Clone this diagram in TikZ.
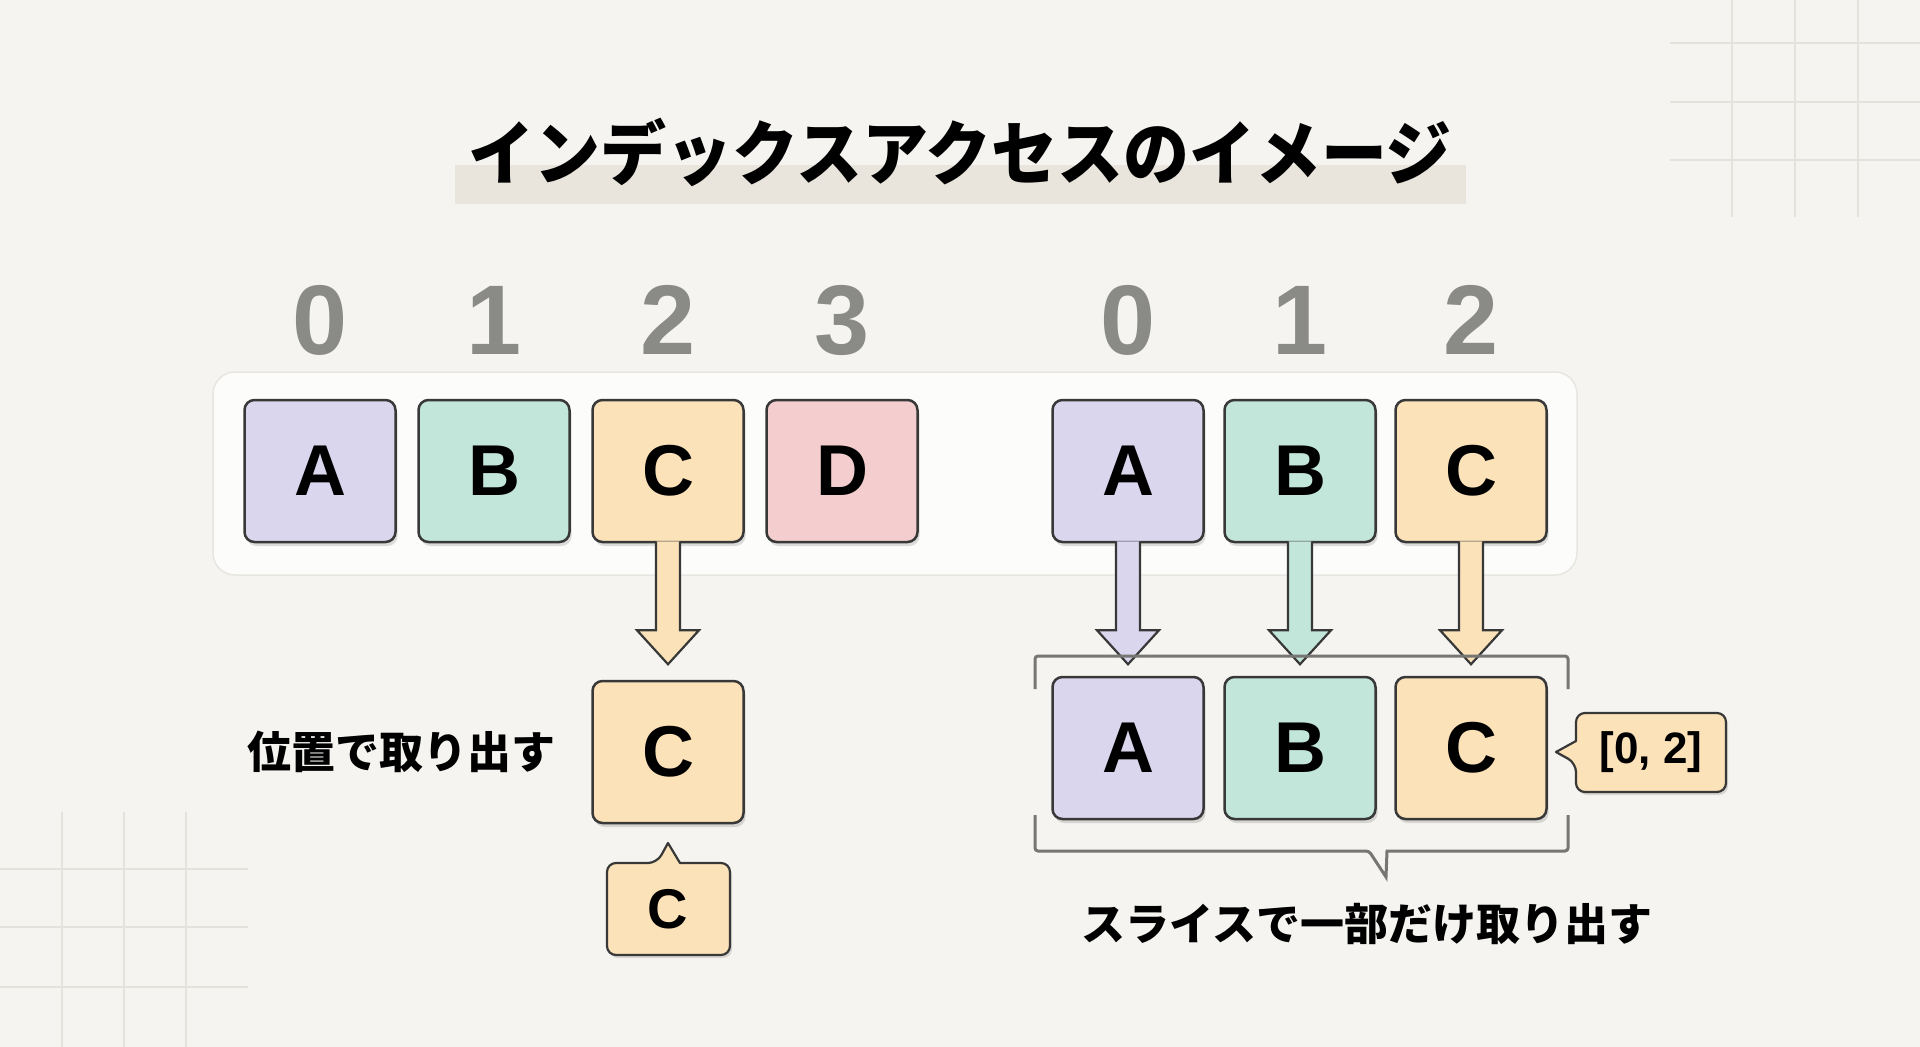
\documentclass[tikz,border=0pt]{standalone}
\usepackage{fontspec}
\setmainfont{Liberation Sans}
\newfontfamily\jp{Noto Sans CJK JP}
\usetikzlibrary{shadows,calc}
\definecolor{bg}{HTML}{F5F4F0}
\definecolor{panel}{HTML}{FCFCFB}
\definecolor{panelline}{HTML}{E8E6E1}
\definecolor{gridc}{HTML}{E4E2DC}
\definecolor{barc}{HTML}{E9E5DD}
\definecolor{dk}{HTML}{383838}
\definecolor{pu}{HTML}{DAD6EE}
\definecolor{gr}{HTML}{C3E6DA}
\definecolor{orc}{HTML}{FBE2B9}
\definecolor{pk}{HTML}{F4CECE}
\definecolor{digc}{HTML}{8A8A87}
\definecolor{brk}{HTML}{767674}
\tikzset{
  cell/.style={draw=dk, line width=2.5pt, rounded corners=10pt, minimum width=151pt, minimum height=142pt, inner sep=0pt,
    font=\bfseries\fontsize{72}{72}\selectfont,
    drop shadow={shadow xshift=2pt, shadow yshift=-4pt, opacity=0.13, fill=black}},
  digit/.style={inner sep=0pt, text=digc, font=\bfseries\fontsize{99}{99}\selectfont},
  jplabel/.style={inner sep=0pt, font=\jp\bfseries\fontsize{44}{50}\selectfont},
  barrow/.style={draw=dk, line width=2.2pt, line join=miter},
  callout/.style={draw=dk, line width=2.2pt, line join=round},
  gridline/.style={draw=gridc, line width=1.5pt}
}
\newcommand\blockarrow[2]{%
  \filldraw[barrow, fill=#2] (#1.south) ++(-12,-2) -- ++(0,89) -- ++(-19,0) -- ++(31,34) -- ++(31,-34) -- ++(-19,0) -- ++(0,-89);}
\begin{document}
\begin{tikzpicture}[x=1pt,y=-1pt]
\useasboundingbox (0,0) rectangle (1920,1047);
\fill[bg] (0,0) rectangle (1920,1047);
% grids
\foreach \gx in {1732,1795,1858} \draw[gridline] (\gx,0) -- (\gx,217);
\foreach \gy in {43,102,160} \draw[gridline] (1670,\gy) -- (1920,\gy);
\foreach \gx in {62,124,186} \draw[gridline] (\gx,812) -- (\gx,1047);
\foreach \gy in {869,927,987} \draw[gridline] (0,\gy) -- (248,\gy);
% title
\fill[barc] (455,165) rectangle (1466,204);
\node[inner sep=0pt, font=\jp\bfseries\fontsize{66}{76}\selectfont] (title) at (960,152) {\scalebox{1}[1.06]{インデックスアクセスのイメージ}};
% panel
\filldraw[fill=panel, draw=panelline, line width=1.5pt, rounded corners=22pt] (213,372) rectangle (1577,575);
% indices
\node[digit] (i0) at (320,320) {0};
\node[digit] (i1) at (494,320) {1};
\node[digit] (i2) at (668,320) {2};
\node[digit] (i3) at (842,320) {3};
\node[digit] (j0) at (1128,320) {0};
\node[digit] (j1) at (1300,320) {1};
\node[digit] (j2) at (1471,320) {2};
% top row
\node[cell, fill=pu] (a1) at (320,471) {A};
\node[cell, fill=gr] (b1) at (494,471) {B};
\node[cell, fill=orc] (c1) at (668,471) {C};
\node[cell, fill=pk] (d1) at (842,471) {D};
\node[cell, fill=pu] (a2) at (1128,471) {A};
\node[cell, fill=gr] (b2) at (1300,471) {B};
\node[cell, fill=orc] (c2) at (1471,471) {C};
% block arrows
\blockarrow{c1}{orc}
\blockarrow{a2}{pu}
\blockarrow{b2}{gr}
\blockarrow{c2}{orc}
% lower left
\node[cell, fill=orc] (c3) at (668,752) {C};
\node[jplabel, anchor=east] (lab1) at (556,752) {位置で取り出す};
% small callout
\filldraw[callout, fill=orc, drop shadow={shadow xshift=2pt, shadow yshift=-3pt, opacity=0.12, fill=black}]
  (668,843) -- (680,863) [rounded corners=9pt] -- (730,863) -- (730,955) -- (607,955) -- (607,863) -- (657,863) [sharp corners] -- cycle;
\node[inner sep=0pt, font=\bfseries\fontsize{56}{56}\selectfont] (cs) at (668,909) {C};
% lower right
\node[cell, fill=pu] (a3) at (1128,748) {A};
\node[cell, fill=gr] (b3) at (1300,748) {B};
\node[cell, fill=orc] (c4) at (1471,748) {C};
% bracket
\draw[draw=brk, line width=3pt, rounded corners=3pt] (1035,689) -- (1035,656) -- (1568,656) -- (1568,689);
\draw[draw=brk, line width=3pt, rounded corners=3pt] (1035,815) -- (1035,851) -- (1369,851) [sharp corners] -- (1386,877) -- (1387,851) [rounded corners=3pt] -- (1568,851) -- (1568,815);
\node[jplabel] (lab2) at (1367,924) {スライスで一部だけ取り出す};
% [0,2] callout
\filldraw[callout, fill=orc, drop shadow={shadow xshift=2pt, shadow yshift=-3pt, opacity=0.12, fill=black}]
  (1556,752) -- (1576,741) [rounded corners=9pt] -- (1576,713) -- (1726,713) -- (1726,792) -- (1576,792) -- (1576,763) [sharp corners] -- cycle;
\node[inner sep=0pt, font=\bfseries\fontsize{44}{44}\selectfont] (rng) at (1651,752) {[0, 2]};
\end{tikzpicture}
\end{document}
